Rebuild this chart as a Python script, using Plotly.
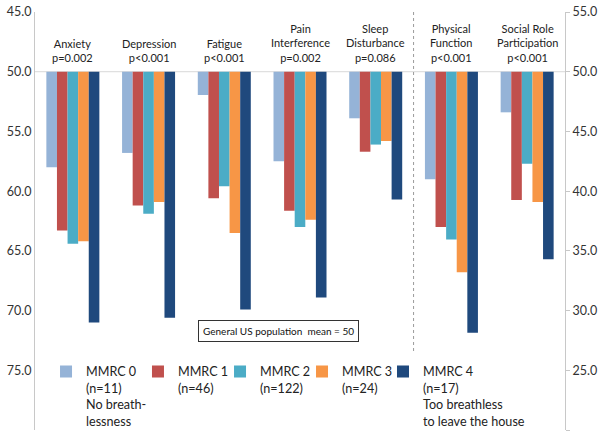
import plotly.graph_objects as go

# ---- data ----
left_categories = ["Anxiety", "Depression", "Fatigue", "Pain Interference", "Sleep Disturbance"]
right_categories = ["Physical Function", "Social Role Participation"]
category_labels = {
    "Anxiety": "Anxiety<br>p=0.002",
    "Depression": "Depression<br>p<0.001",
    "Fatigue": "Fatigue<br>p<0.001",
    "Pain Interference": "Pain<br>Interference<br>p=0.002",
    "Sleep Disturbance": "Sleep<br>Disturbance<br>p=0.086",
    "Physical Function": "Physical<br>Function<br>p<0.001",
    "Social Role Participation": "Social Role<br>Participation<br>p<0.001",
}
series_names = [
    "MMRC 0<br>(n=11)<br>No breath-<br>lessness",
    "MMRC 1<br>(n=46)",
    "MMRC 2<br>(n=122)",
    "MMRC 3<br>(n=24)",
    "MMRC 4<br>(n=17)<br>Too breathless<br>to leave the house",
]
# left-axis scores (higher = worse)
left_values = [
    [58.0, 56.8, 51.95, 57.5, 53.9],   # MMRC 0
    [63.3, 61.2, 60.6, 61.65, 56.7],   # MMRC 1
    [64.4, 61.9, 59.6, 63.0, 56.1],    # MMRC 2
    [64.2, 60.9, 63.5, 62.4, 55.8],    # MMRC 3
    [71.0, 70.6, 69.9, 68.9, 60.7],    # MMRC 4
]
# right-axis scores (lower = worse)
right_values = [
    [41.0, 46.6],
    [37.0, 39.25],
    [35.95, 42.3],
    [33.2, 39.1],
    [28.15, 34.3],
]
colors = ["#95B3D7", "#C0504D", "#4BACC6", "#F79646", "#1F497D"]
population_mean = 50
left_ticks = [45, 50, 55, 60, 65, 70, 75, 80]
right_ticks = [55, 50, 45, 40, 35, 30, 25, 20]
all_categories = left_categories + right_categories

legend_ids = ["legend", "legend2", "legend3", "legend4", "legend5"]
legend_x = [0.0208, 0.1943, 0.3491, 0.5038, 0.6566]

fig = go.Figure()
for i in range(5):
    fig.add_trace(go.Bar(
        x=left_categories,
        y=[v - population_mean for v in left_values[i]],
        base=population_mean,
        name=series_names[i],
        marker=dict(color=colors[i], line=dict(width=0)),
        offsetgroup=str(i),
        legendgroup=str(i),
        legend=legend_ids[i],
        yaxis="y",
    ))
for i in range(5):
    fig.add_trace(go.Bar(
        x=right_categories,
        y=[v - population_mean for v in right_values[i]],
        base=population_mean,
        name=series_names[i],
        marker=dict(color=colors[i], line=dict(width=0)),
        offsetgroup=str(i),
        legendgroup=str(i),
        legend=legend_ids[i],
        showlegend=False,
        yaxis="y2",
    ))

font_family = "Lato, 'Open Sans', sans-serif"

annotations = []
for c in all_categories:
    annotations.append(dict(
        x=c, y=population_mean, xref="x", yref="y",
        text=category_labels[c], showarrow=False,
        yanchor="bottom", yshift=6,
        font=dict(size=11, color="#222222", family=font_family),
    ))
annotations.append(dict(
    x=2.72, y=71.7, xref="x", yref="y",
    text="General US population  mean = 50", showarrow=False,
    bordercolor="#333333", borderwidth=1, borderpad=4, bgcolor="white",
    font=dict(size=10, color="#111111", family=font_family),
))

shapes = [
    dict(type="line", xref="x", yref="y", x0=4.5, x1=4.5, y0=45, y1=73.5,
         line=dict(color="#9a9a9a", width=1, dash="dot")),
]

legend_common = dict(
    orientation="v", y=0.175, xanchor="left", yanchor="top",
    valign="top", font=dict(size=12.6, color="#222222", family=font_family),
    bgcolor="rgba(0,0,0,0)", itemwidth=30,
)

fig.update_layout(
    width=600, height=435,
    margin=dict(l=35, r=35, t=12, b=5, autoexpand=False),
    paper_bgcolor="white", plot_bgcolor="white",
    barmode="group", bargap=0.3, bargroupgap=0,
    font=dict(family=font_family, size=13, color="#333333"),
    xaxis=dict(
        type="category", categoryorder="array", categoryarray=all_categories,
        showticklabels=False, showgrid=False, zeroline=False, showline=False,
        range=[-0.5, 6.5],
    ),
    yaxis=dict(
        range=[80, 45], tickvals=left_ticks, tickformat=".1f",
        showgrid=False, zeroline=False,
        showline=True, linecolor="#c8c8c8", linewidth=1,
        ticks="", tickfont=dict(size=12.5, color="#333333"),
    ),
    yaxis2=dict(
        range=[20, 55], tickvals=right_ticks, tickformat=".1f",
        overlaying="y", side="right", anchor="x",
        showgrid=False, zeroline=False,
        showline=True, linecolor="#c8c8c8", linewidth=1,
        ticks="outside", ticklen=4, tickcolor="#c8c8c8",
        tickfont=dict(size=12.5, color="#333333"),
    ),
    annotations=annotations,
    shapes=shapes,
)
for lid, lx in zip(legend_ids, legend_x):
    fig.update_layout({lid: dict(x=lx, **legend_common)})

# horizontal reference line at the population mean
fig.add_hline(y=population_mean, line=dict(color="#d9d9d9", width=1), layer="below")

fig.write_html(
    "out.html",
    config={"displayModeBar": False},
    post_script="document.body.style.margin='0';document.body.style.overflow='hidden';",
)
